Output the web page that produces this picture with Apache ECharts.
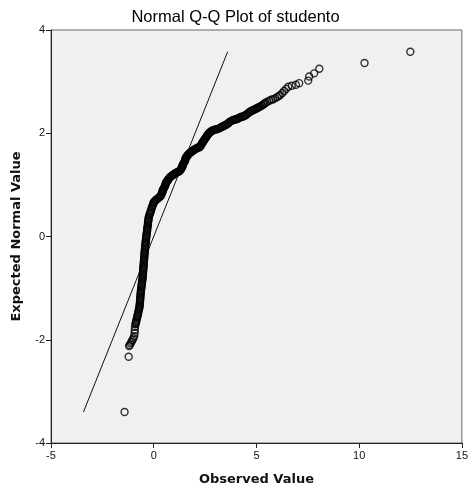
<!DOCTYPE html>
<html>
<head>
<meta charset="utf-8">
<script src="https://cdn.jsdelivr.net/npm/echarts@6/dist/echarts.min.js"></script>
<style>
  html, body { margin: 0; padding: 0; background: #fff; }
  #chart { width: 471px; height: 491px; }
</style>
</head>
<body>
<div id="chart"></div>
<script>
// Sorted studentized values (observed), tail and lower body.
const observedLow = [
  -1.42, -1.22, -1.20, -1.16, -1.12, -1.08, -1.04, -0.99, -0.95, -0.93, -0.92, -0.91, -0.89, -0.87,
  -0.86, -0.85, -0.83, -0.82, -0.80, -0.79, -0.77, -0.76, -0.75, -0.73,
  -0.72, -0.70, -0.69, -0.69, -0.68, -0.67, -0.67, -0.66, -0.66, -0.65,
  -0.65, -0.64, -0.64, -0.63, -0.62, -0.62, -0.61, -0.60, -0.59, -0.59,
  -0.58, -0.57, -0.56, -0.55, -0.54, -0.54, -0.53, -0.53, -0.52, -0.52,
  -0.51, -0.51, -0.50, -0.50, -0.49, -0.49, -0.48, -0.48, -0.47, -0.47,
  -0.46, -0.46, -0.45, -0.45, -0.44, -0.44, -0.43, -0.42, -0.42, -0.41,
  -0.41, -0.40, -0.39, -0.39, -0.38, -0.37, -0.36, -0.36, -0.35, -0.34,
  -0.33, -0.32, -0.32, -0.31, -0.30, -0.29, -0.28, -0.28, -0.27, -0.26,
  -0.25, -0.25, -0.23, -0.21, -0.19, -0.17, -0.14, -0.13, -0.10, -0.09,
  -0.06, -0.04, -0.02, 0.00
];
// Expected normal quantiles for the values above.
const expectedLow = [
  -3.40, -2.33, -2.12, -2.10, -2.07, -2.04, -2.01, -1.97, -1.93, -1.87, -1.81, -1.75, -1.70, -1.68,
  -1.66, -1.64, -1.61, -1.59, -1.56, -1.54, -1.51, -1.49, -1.46, -1.44,
  -1.41, -1.39, -1.36, -1.34, -1.31, -1.29, -1.26, -1.24, -1.21, -1.19,
  -1.16, -1.14, -1.11, -1.09, -1.06, -1.04, -1.01, -0.99, -0.96, -0.94,
  -0.91, -0.89, -0.86, -0.84, -0.81, -0.79, -0.76, -0.74, -0.71, -0.69,
  -0.66, -0.64, -0.61, -0.59, -0.56, -0.54, -0.51, -0.49, -0.46, -0.44,
  -0.41, -0.39, -0.36, -0.34, -0.31, -0.29, -0.26, -0.24, -0.21, -0.19,
  -0.16, -0.14, -0.11, -0.09, -0.06, -0.04, -0.01, 0.01, 0.04, 0.06,
  0.09, 0.11, 0.14, 0.16, 0.19, 0.21, 0.24, 0.26, 0.29, 0.31,
  0.34, 0.36, 0.39, 0.41, 0.44, 0.46, 0.49, 0.51, 0.54, 0.56,
  0.59, 0.61, 0.64, 0.66
];

// Sorted studentized values (observed), upper body and right tail.
const observedHigh = [
  0.02, 0.05, 0.08, 0.11, 0.15, 0.20, 0.25, 0.30, 0.33, 0.36,
  0.38, 0.40, 0.42, 0.43, 0.44, 0.45, 0.47, 0.50, 0.53, 0.55,
  0.57, 0.58, 0.59, 0.60, 0.63, 0.65, 0.67, 0.69, 0.72, 0.74,
  0.77, 0.79, 0.83, 0.86, 0.90, 0.93, 0.97, 1.00, 1.04, 1.08,
  1.12, 1.17, 1.22, 1.27, 1.30, 1.32, 1.35, 1.37, 1.39, 1.40,
  1.41, 1.42, 1.45, 1.47, 1.50, 1.52, 1.53, 1.54, 1.55, 1.56,
  1.59, 1.61, 1.64, 1.66, 1.69, 1.71, 1.74, 1.76, 1.80, 1.83,
  1.87, 1.90, 1.94, 1.97, 2.01, 2.05, 2.10, 2.14, 2.19, 2.24,
  2.27, 2.29, 2.32, 2.34, 2.36, 2.38, 2.41, 2.43, 2.46, 2.48,
  2.51, 2.53, 2.56, 2.58, 2.61, 2.63, 2.67, 2.70, 2.74, 2.77,
  2.81, 2.85, 2.88, 2.92, 2.97, 3.01, 3.06, 3.11, 3.16, 3.21,
  3.26, 3.31, 3.35, 3.40, 3.45, 3.50, 3.55, 3.60, 3.65, 3.69,
  3.74, 3.79, 3.84, 3.89, 3.93, 3.98, 4.03, 4.08, 4.12, 4.17,
  4.22, 4.27, 4.32, 4.37, 4.42, 4.47, 4.51, 4.56, 4.61, 4.66,
  4.70, 4.75, 4.80, 4.85, 4.90, 4.95, 5.00, 5.05, 5.09, 5.14,
  5.19, 5.24, 5.29, 5.34, 5.39, 5.44, 5.53, 5.63, 5.72, 5.82,
  5.92, 6.01, 6.09, 6.16, 6.26, 6.35, 6.45, 6.55, 6.72, 6.92,
  7.08, 7.52, 7.57, 7.81, 8.06, 10.26, 12.49
];
// Expected normal quantiles for the values above.
const expectedHigh = [
  0.67, 0.68, 0.70, 0.71, 0.72, 0.74, 0.75, 0.77, 0.78, 0.80,
  0.82, 0.84, 0.86, 0.87, 0.89, 0.90, 0.92, 0.94, 0.96, 0.98,
  1.00, 1.01, 1.03, 1.04, 1.06, 1.07, 1.08, 1.09, 1.11, 1.12,
  1.14, 1.15, 1.16, 1.17, 1.18, 1.19, 1.20, 1.21, 1.22, 1.23,
  1.24, 1.25, 1.26, 1.27, 1.29, 1.30, 1.32, 1.33, 1.35, 1.36,
  1.38, 1.39, 1.41, 1.43, 1.45, 1.46, 1.48, 1.49, 1.51, 1.52,
  1.54, 1.55, 1.57, 1.58, 1.59, 1.60, 1.61, 1.62, 1.63, 1.64,
  1.65, 1.66, 1.67, 1.68, 1.69, 1.70, 1.71, 1.72, 1.73, 1.73,
  1.75, 1.76, 1.78, 1.79, 1.81, 1.82, 1.84, 1.85, 1.87, 1.88,
  1.90, 1.91, 1.93, 1.94, 1.96, 1.97, 1.99, 2.00, 2.02, 2.03,
  2.04, 2.05, 2.06, 2.06, 2.07, 2.07, 2.08, 2.08, 2.09, 2.10,
  2.11, 2.12, 2.13, 2.14, 2.15, 2.16, 2.17, 2.19, 2.20, 2.22,
  2.23, 2.24, 2.25, 2.26, 2.26, 2.27, 2.27, 2.28, 2.29, 2.30,
  2.31, 2.32, 2.32, 2.33, 2.34, 2.35, 2.36, 2.38, 2.39, 2.41,
  2.42, 2.43, 2.44, 2.45, 2.46, 2.47, 2.48, 2.49, 2.50, 2.51,
  2.52, 2.53, 2.54, 2.56, 2.57, 2.59, 2.61, 2.63, 2.65, 2.66,
  2.68, 2.70, 2.72, 2.74, 2.78, 2.82, 2.86, 2.90, 2.92, 2.94,
  2.97, 3.02, 3.10, 3.16, 3.25, 3.36, 3.58
];

// Endpoints of the diagonal reference line (observed = expected).
const refLineX = [-3.42, 3.60];
const refLineY = [-3.40, 3.58];

// Axis ranges and tick steps.
const xTicks = { min: -5, max: 15, step: 5 };
const yTicks = { min: -4, max: 4, step: 2 };

const observed = observedLow.concat(observedHigh);
const expected = expectedLow.concat(expectedHigh);
const points = observed.map((v, i) => [v, expected[i]]);
const refLine = refLineX.map((v, i) => [v, refLineY[i]]);

const chart = echarts.init(document.getElementById('chart'), null, { renderer: 'canvas' });

const tickLabelStyle = {
  color: '#111',
  fontSize: 11,
  fontFamily: 'Liberation Sans, Arial, sans-serif'
};
const axisNameStyle = {
  color: '#111',
  fontSize: 13,
  fontWeight: 'bold',
  fontFamily: 'DejaVu Sans, sans-serif'
};

chart.setOption({
  animation: false,
  backgroundColor: '#ffffff',
  title: {
    text: 'Normal Q-Q Plot of studento',
    left: 'center',
    top: 4,
    textStyle: {
      color: '#000',
      fontSize: 16.5,
      fontWeight: 'normal',
      fontFamily: 'Liberation Sans, Arial, sans-serif'
    }
  },
  grid: {
    left: 51,
    right: 7,
    top: 30,
    bottom: 48,
    show: true,
    backgroundColor: '#f0f0f0',
    borderColor: '#666',
    borderWidth: 1
  },
  xAxis: {
    type: 'value',
    min: xTicks.min,
    max: xTicks.max,
    interval: xTicks.step,
    name: 'Observed Value',
    nameLocation: 'middle',
    nameGap: 30,
    nameTextStyle: axisNameStyle,
    axisLine: { onZero: false, lineStyle: { color: '#222', width: 1 } },
    axisTick: { show: true, length: 5, lineStyle: { color: '#222' } },
    axisLabel: Object.assign({ margin: 7 }, tickLabelStyle),
    splitLine: { show: false }
  },
  yAxis: {
    type: 'value',
    min: yTicks.min,
    max: yTicks.max,
    interval: yTicks.step,
    name: 'Expected Normal Value',
    nameLocation: 'middle',
    nameGap: 28,
    nameTextStyle: axisNameStyle,
    axisLine: { onZero: false, lineStyle: { color: '#222', width: 1 } },
    axisTick: { show: true, length: 5, lineStyle: { color: '#222' } },
    axisLabel: Object.assign({ margin: 6 }, tickLabelStyle),
    splitLine: { show: false }
  },
  series: [
    {
      type: 'line',
      data: refLine,
      symbol: 'none',
      lineStyle: { color: '#111', width: 1 },
      z: 1
    },
    {
      type: 'scatter',
      data: points,
      symbol: 'circle',
      symbolSize: 7,
      itemStyle: {
        color: 'rgba(0,0,0,0)',
        borderColor: '#000',
        borderWidth: 1.4
      },
      z: 2
    }
  ]
});
</script>
</body>
</html>
